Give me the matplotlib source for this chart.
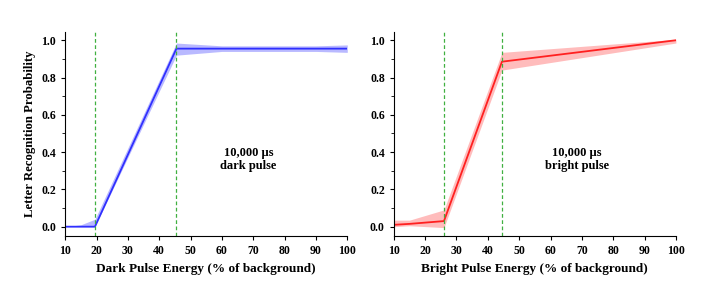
import numpy as np
import matplotlib.pyplot as plt
from matplotlib.ticker import MultipleLocator

plt.rcParams['font.family'] = ['Liberation Serif', 'DejaVu Serif']
plt.rcParams['font.weight'] = 'bold'

# dark pulse data
dark_x = [10, 15, 19.5, 45.5, 60, 90, 100]
dark_y = [0.0, 0.0, 0.0, 0.955, 0.955, 0.955, 0.955]
dark_lo = [0.0, 0.0, 0.0, 0.92, 0.94, 0.94, 0.935]
dark_hi = [0.0, 0.01, 0.04, 0.985, 0.97, 0.97, 0.975]
dark_thresh = [19.5, 45.5]

# bright pulse data
bright_x = [10, 15, 26, 44.5, 100]
bright_y = [0.01, 0.015, 0.03, 0.885, 1.0]
bright_lo = [0.0, 0.005, -0.005, 0.84, 0.985]
bright_hi = [0.035, 0.035, 0.09, 0.935, 1.005]
bright_thresh = [26, 44.5]

fig = plt.figure(figsize=(7.16, 2.95), dpi=100)
ax1 = fig.add_axes([0.091, 0.2, 0.394, 0.692])
ax2 = fig.add_axes([0.550, 0.2, 0.394, 0.692])

panels = [
    (ax1, dark_x, dark_y, dark_lo, dark_hi, dark_thresh, '#3030ff', '#9c9cff',
     'Dark Pulse Energy (% of background)', '10,000 µs\ndark pulse'),
    (ax2, bright_x, bright_y, bright_lo, bright_hi, bright_thresh, '#ff2020', '#ffa0a0',
     'Bright Pulse Energy (% of background)', '10,000 µs\nbright pulse'),
]

for ax, x, y, lo, hi, th, c, fc, xl, txt in panels:
    ax.fill_between(x, lo, hi, color=fc, alpha=0.7, lw=0)
    ax.plot(x, y, color=c, lw=1.3)
    for t in th:
        ax.axvline(t, color='#40b040', ls='--', lw=0.9, dashes=(3, 2))
    ax.set_xlim(10, 100)
    ax.set_ylim(-0.05, 1.045)
    ax.xaxis.set_major_locator(MultipleLocator(10))
    ax.yaxis.set_major_locator(MultipleLocator(0.2))
    ax.yaxis.set_minor_locator(MultipleLocator(0.1))
    ax.yaxis.set_major_formatter(plt.FormatStrFormatter('%.1f'))
    ax.spines['top'].set_visible(False)
    ax.spines['right'].set_visible(False)
    ax.tick_params(labelsize=8.5, length=3, width=0.8)
    ax.tick_params(which='minor', length=2)
    ax.set_xlabel(xl, fontsize=9.5, fontweight='bold')
    ax.text(68.5, 0.36, txt, ha='center', va='center', fontsize=9, fontweight='bold')

ax1.set_ylabel('Letter Recognition Probability', fontsize=9.2, fontweight='bold')

fig.savefig('out.png', dpi=100)
